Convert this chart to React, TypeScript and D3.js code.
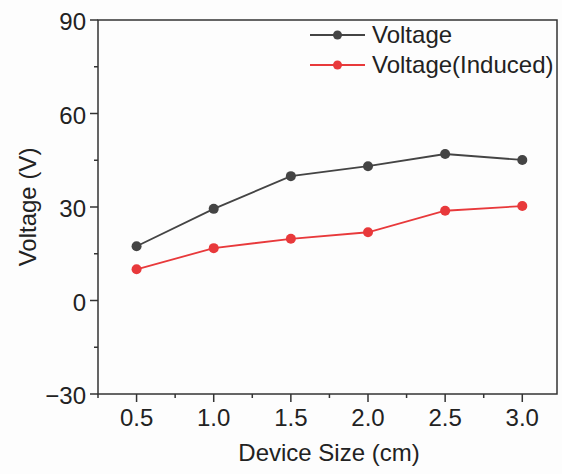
import * as d3 from 'd3';

const width = 562;
const height = 474;
const margin = { top: 20, right: 5, bottom: 80, left: 98 };

const sizes = [0.5, 1.0, 1.5, 2.0, 2.5, 3.0];
const voltage = [17.4, 29.4, 39.9, 43.1, 47.0, 45.1];
const induced = [10.0, 16.8, 19.8, 21.9, 28.8, 30.3];
const xTicks = [0.5, 1.0, 1.5, 2.0, 2.5, 3.0];
const xMinor = [0.25, 0.75, 1.25, 1.75, 2.25, 2.75];
const yTicks = [-30, 0, 30, 60, 90];
const yMinor = [-15, 15, 45, 75];

const series = [
  { name: 'Voltage', values: voltage, color: '#444444' },
  { name: 'Voltage(Induced)', values: induced, color: '#e8393b' },
];

const font = '"Liberation Sans", Arial, sans-serif';
const fs = 24;

export default function App() {
  const x = d3.scaleLinear().domain([0.25, 3.225]).range([margin.left, width - margin.right]);
  const y = d3.scaleLinear().domain([-30, 90]).range([height - margin.bottom, margin.top]);
  const [x0, x1] = x.range();
  const [yb, yt] = y.range();

  const line = d3
    .line<number>()
    .x((_, i) => x(sizes[i]))
    .y((d) => y(d));

  return (
    <svg
      width={width}
      height={height}
      style={{ position: 'absolute', left: 0, top: 0, background: '#fdfdfd' }}
      fontFamily={font}
    >
      {/* frame */}
      <rect x={x0} y={yt} width={x1 - x0} height={yb - yt} fill="none" stroke="#333" strokeWidth={1.5} />

      {/* y axis */}
      {yTicks.map((t) => (
        <g key={'y' + t}>
          <line x1={x0 - 8} x2={x0} y1={y(t)} y2={y(t)} stroke="#333" strokeWidth={1.5} />
          <text x={x0 - 12} y={y(t) + 2} dy="0.35em" textAnchor="end" fontSize={fs} fill="#222">
            {t < 0 ? '\u2212' + Math.abs(t) : t}
          </text>
        </g>
      ))}
      {yMinor.map((t) => (
        <line key={'ym' + t} x1={x0 - 4} x2={x0} y1={y(t)} y2={y(t)} stroke="#333" strokeWidth={1.5} />
      ))}

      {/* x axis */}
      {xTicks.map((t) => (
        <g key={'x' + t}>
          <line x1={x(t)} x2={x(t)} y1={yb} y2={yb + 8} stroke="#333" strokeWidth={1.5} />
          <text x={x(t)} y={yb + 32} textAnchor="middle" fontSize={fs} fill="#222">
            {d3.format('.1f')(t)}
          </text>
        </g>
      ))}
      {xMinor.map((t) => (
        <line key={'xm' + t} x1={x(t)} x2={x(t)} y1={yb} y2={yb + 4} stroke="#333" strokeWidth={1.5} />
      ))}

      <text
        transform={`translate(36, ${(yt + yb) / 2}) rotate(-90)`}
        textAnchor="middle"
        fontSize={fs}
        fill="#222"
      >
        Voltage (V)
      </text>
      <text x={329} y={461} textAnchor="middle" fontSize={fs} fill="#222">
        Device Size (cm)
      </text>

      {/* series */}
      {series.map((s) => (
        <g key={s.name}>
          <path d={line(s.values) ?? ''} fill="none" stroke={s.color} strokeWidth={1.8} />
          {s.values.map((v, i) => (
            <circle key={i} cx={x(sizes[i])} cy={y(v)} r={5} fill={s.color} />
          ))}
        </g>
      ))}

      {/* legend */}
      {series.map((s, i) => (
        <g key={'lg' + s.name} transform={`translate(310, ${35 + i * 30})`}>
          <line x1={0} x2={55} y1={0} y2={0} stroke={s.color} strokeWidth={1.8} />
          <circle cx={27.5} cy={0} r={4.5} fill={s.color} />
          <text x={62} y={0} dy="0.35em" fontSize={fs} fill="#222">
            {s.name}
          </text>
        </g>
      ))}
    </svg>
  );
}
